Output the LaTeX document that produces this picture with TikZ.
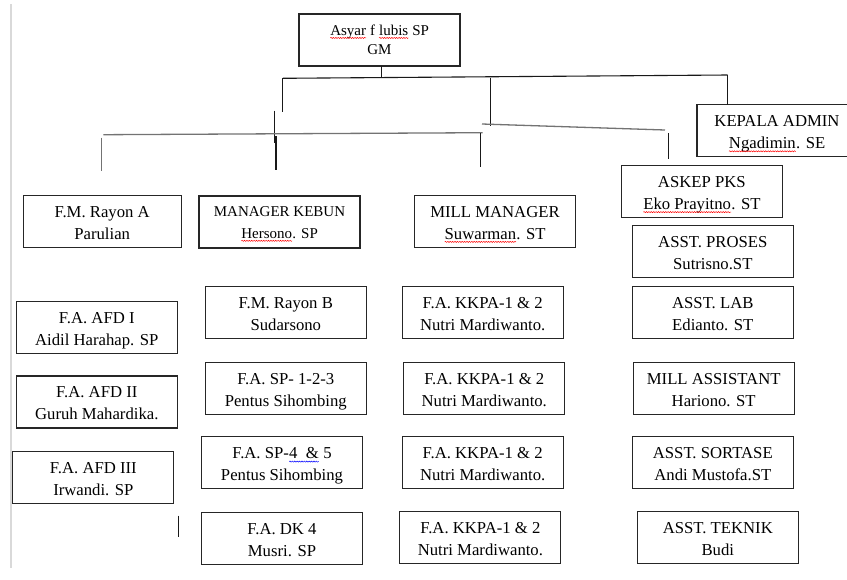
\documentclass[tikz,border=0pt]{standalone}
\usepackage{fontspec}
\usetikzlibrary{decorations.pathmorphing}
\setmainfont{Liberation Serif}
\tikzset{squig/.style={line width=0.5pt, decorate,
   decoration={snake, amplitude=0.55pt, segment length=2.4pt}}}
\newcommand\sqe[2][red]{\tikz[baseline=(sqw.base)]{\node[inner sep=0pt, outer sep=0pt, minimum size=0pt, draw=none] (sqw) {#2};
  \draw[squig, #1] ([yshift=-2.8pt]sqw.base west) -- ([yshift=-2.8pt]sqw.base east);}}
\newcommand\twol[3][2.5pt]{\raisebox{-#1}[\height][\depth]{\begin{tabular}{@{}c@{}}#2\\#3\end{tabular}}}
\begin{document}
\begin{tikzpicture}[x=1pt,y=-1pt,
  box/.style={draw=black!85, line width=1.1pt, inner sep=0pt,
    minimum width=161pt, minimum height=52pt, font=\fontsize{16.7}{22}\selectfont},
  smallbox/.style={box, font=\fontsize{15}{19.5}\selectfont},
  conn/.style={draw=black!90, line width=1.1pt},
  gconn/.style={draw=black!55, line width=1.3pt},
  edge/.style={draw=black!15, line width=2pt}]
\useasboundingbox[fill=white] (0,0) rectangle (847,579);

% page edge
\coordinate (e1) at (11,4);
\coordinate (e2) at (11,568);
\draw[edge] (e1) -- (e2);

% boxes
\node[smallbox] (gm) at (379.5,40) {\twol[1pt]{\sqe{Asyar} f \sqe{lubis} SP}{GM}};
\node[box, minimum width=160pt] (kepala) at (777,130.6) {\twol{KEPALA ADMIN}{\sqe{Ngadimin}. SE}};
\node[box, minimum width=157.7pt] (fmA) at (102.2,221.5) {\twol{F.M. Rayon A}{Parulian}};
\node[smallbox, font=\fontsize{15}{21.5}\selectfont] (mkebun) at (279.5,222) {\twol[1pt]{MANAGER KEBUN}{\sqe{Hersono}. SP}};
\node[box] (millmgr) at (495,221.2) {\twol{MILL MANAGER}{\sqe{Suwarman}. ST}};
\node[box] (askep) at (701.8,191.4) {\twol{ASKEP PKS}{\sqe{Eko Prayitno}. ST}};
\node[box] (proses) at (712.8,251.7) {\twol{ASST. PROSES}{Sutrisno.ST}};
\node[box] (afd1) at (96.8,327.3) {\twol{F.A. AFD I}{Aidil Harahap. SP}};
\node[box] (fmB) at (285.8,312.9) {\twol{F.M. Rayon B}{Sudarsono}};
\node[box] (kkpa1) at (482.7,312.2) {\twol{F.A. KKPA-1 \& 2}{Nutri Mardiwanto.}};
\node[box] (lab) at (712.8,312.9) {\twol{ASST. LAB}{Edianto. ST}};
\node[box] (afd2) at (96.8,402) {\twol{F.A. AFD II}{Guruh Mahardika.}};
\node[box] (sp123) at (285.8,388.3) {\twol{F.A. SP- 1-2-3}{Pentus Sihombing}};
\node[box] (kkpa2) at (484.3,388.5) {\twol{F.A. KKPA-1 \& 2}{Nutri Mardiwanto.}};
\node[box] (millasst) at (713.7,388.5) {\twol{MILL ASSISTANT}{Hariono. ST}};
\node[box] (afd3) at (93.4,477.2) {\twol{F.A. AFD III}{Irwandi. SP}};
\node[box] (sp45) at (282,462.9) {\twol{F.A. SP-\sqe[blue]{4\hspace{8.35pt}\&} 5}{Pentus Sihombing}};
\node[box] (kkpa3) at (482.7,462.2) {\twol{F.A. KKPA-1 \& 2}{Nutri Mardiwanto.}};
\node[box] (sortase) at (712.8,462.2) {\twol{ASST. SORTASE}{Andi Mustofa.ST}};
\node[box] (dk4) at (282,538.3) {\twol{F.A. DK 4}{Musri. SP}};
\node[box] (kkpa4) at (480.4,537.9) {\twol{F.A. KKPA-1 \& 2}{Nutri Mardiwanto.}};
\node[box] (teknik) at (717.8,537.9) {\twol{ASST. TEKNIK}{Budi}};

% connector coordinates
\coordinate (g0) at (381.3,66);
\coordinate (g1) at (381.3,77.5);
\coordinate (hL) at (282.7,78.3);
\coordinate (hR) at (727.7,75);
\coordinate (vA) at (282.7,112.3);
\coordinate (m1) at (490.5,77.5);
\coordinate (m2) at (490.5,126);
\coordinate (k1) at (727.7,104.5);
\coordinate (s1) at (274.3,110.7);
\coordinate (s2) at (274.3,142.7);
\coordinate (s3) at (276,136);
\coordinate (s4) at (276,169.5);
\coordinate (bL) at (103.3,134.7);
\coordinate (bR) at (482.7,132.7);
\coordinate (a1) at (101.7,137.7);
\coordinate (a2) at (101.7,170.7);
\coordinate (c1) at (480.3,133.3);
\coordinate (c2) at (480.3,166.7);
\coordinate (d1) at (482,124);
\coordinate (d2) at (665,130);
\coordinate (p1) at (668.7,133.3);
\coordinate (p2) at (668.7,159);
\coordinate (x1) at (178.3,515.7);
\coordinate (x2) at (178.3,537.3);

% connectors
\draw[conn] (g0) -- (g1);
\draw[conn] (hL) -- (hR);
\draw[conn] (hL) -- (vA);
\draw[conn] (m1) -- (m2);
\draw[conn] (hR) -- (k1);
\draw[conn] (s1) -- (s2);
\draw[conn] (s3) -- (s4);
\draw[gconn] (bL) -- (bR);
\draw[gconn] (a1) -- (a2);
\draw[conn] (c1) -- (c2);
\draw[gconn] (d1) -- (d2);
\draw[conn] (p1) -- (p2);
\draw[conn] (x1) -- (x2);
\end{tikzpicture}
\end{document}
